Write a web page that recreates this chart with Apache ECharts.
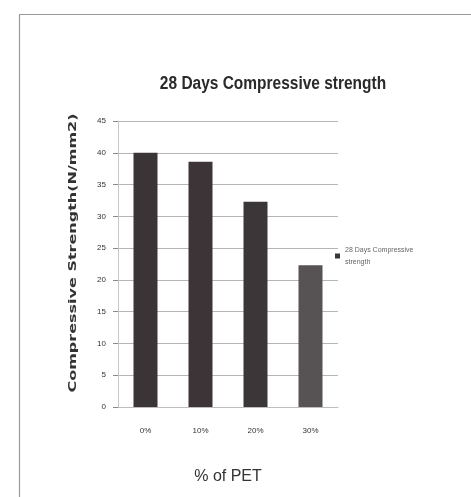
<!DOCTYPE html>
<html>
<head>
<meta charset="utf-8">
<script src="https://cdn.jsdelivr.net/npm/echarts@6/dist/echarts.min.js"></script>
<style>
html,body{margin:0;padding:0;background:#fff;}
#chart{width:471px;height:497px;}
</style>
</head>
<body>
<div id="chart"></div>
<script>
// % of PET replacement and 28-day compressive strength (N/mm2)
var categories = ['0%', '10%', '20%', '30%'];
var strength = [40, 38.6, 32.3, 22.3];
var yTicks = [0, 5, 10, 15, 20, 25, 30, 35, 40, 45];
var barColors = ['#3a3436', '#3c3437', '#3b3739', '#575354'];

var chart = echarts.init(document.getElementById('chart'));
chart.setOption({
  backgroundColor: '#fff',
  animation: false,
  legend: {
    left: 330, top: 239, itemWidth: 5, itemHeight: 5, itemGap: 4, icon: 'rect',
    formatter: function () { return '28 Days Compressive\nstrength'; },
    textStyle: {fontFamily: 'Liberation Sans', fontSize: 7, color: '#666', lineHeight: 12}
  },
  grid: {left: 118, right: 133, top: 121, bottom: 90},
  xAxis: {
    type: 'category', data: categories,
    name: '% of PET', nameLocation: 'middle', nameGap: 62,
    nameTextStyle: {fontFamily: 'Liberation Sans', fontSize: 16, color: '#333'},
    axisLine: {lineStyle: {color: '#bdbdbd'}},
    axisTick: {show: false},
    axisLabel: {margin: 20, fontFamily: 'Liberation Sans', fontSize: 8, color: '#333'}
  },
  yAxis: {
    type: 'value', min: yTicks[0], max: yTicks[yTicks.length - 1], interval: 5,
    axisLine: {show: true, lineStyle: {color: '#c8c8c8'}},
    axisTick: {show: true, length: 5, lineStyle: {color: '#888'}},
    splitLine: {lineStyle: {color: '#b5b5b5'}},
    axisLabel: {margin: 12, fontFamily: 'Liberation Sans', fontSize: 8, color: '#333'}
  },
  series: [{
    name: '28 Days Compressive strength',
    type: 'bar', barWidth: 24,
    itemStyle: {color: barColors[0]},
    data: strength.map(function (v, i) { return {value: v, itemStyle: {color: barColors[i]}}; })
  }],
  graphic: [
    {type: 'rect', left: 17, top: 12, z: -1,
     shape: {width: 470, height: 500},
     style: {fill: 'none', stroke: '#9a9a9a', lineWidth: 1.2}},
    // condensed chart title
    {type: 'text', x: 273, y: 84, scaleX: 0.86,
     style: {text: '28 Days Compressive strength', fontFamily: 'Liberation Sans', fontWeight: 'bold',
             fontSize: 18, fill: '#2a2a2a', align: 'center', verticalAlign: 'middle'}},
    // stretched vertical axis title
    {type: 'text', x: 73, y: 253, rotation: Math.PI / 2, scaleX: 1.6,
     style: {text: 'Compressive Strength(N/mm2)', fontFamily: 'DejaVu Sans', fontWeight: 'bold',
             fontSize: 10, fill: '#333', align: 'center', verticalAlign: 'middle'}}
  ]
});
</script>
</body>
</html>
